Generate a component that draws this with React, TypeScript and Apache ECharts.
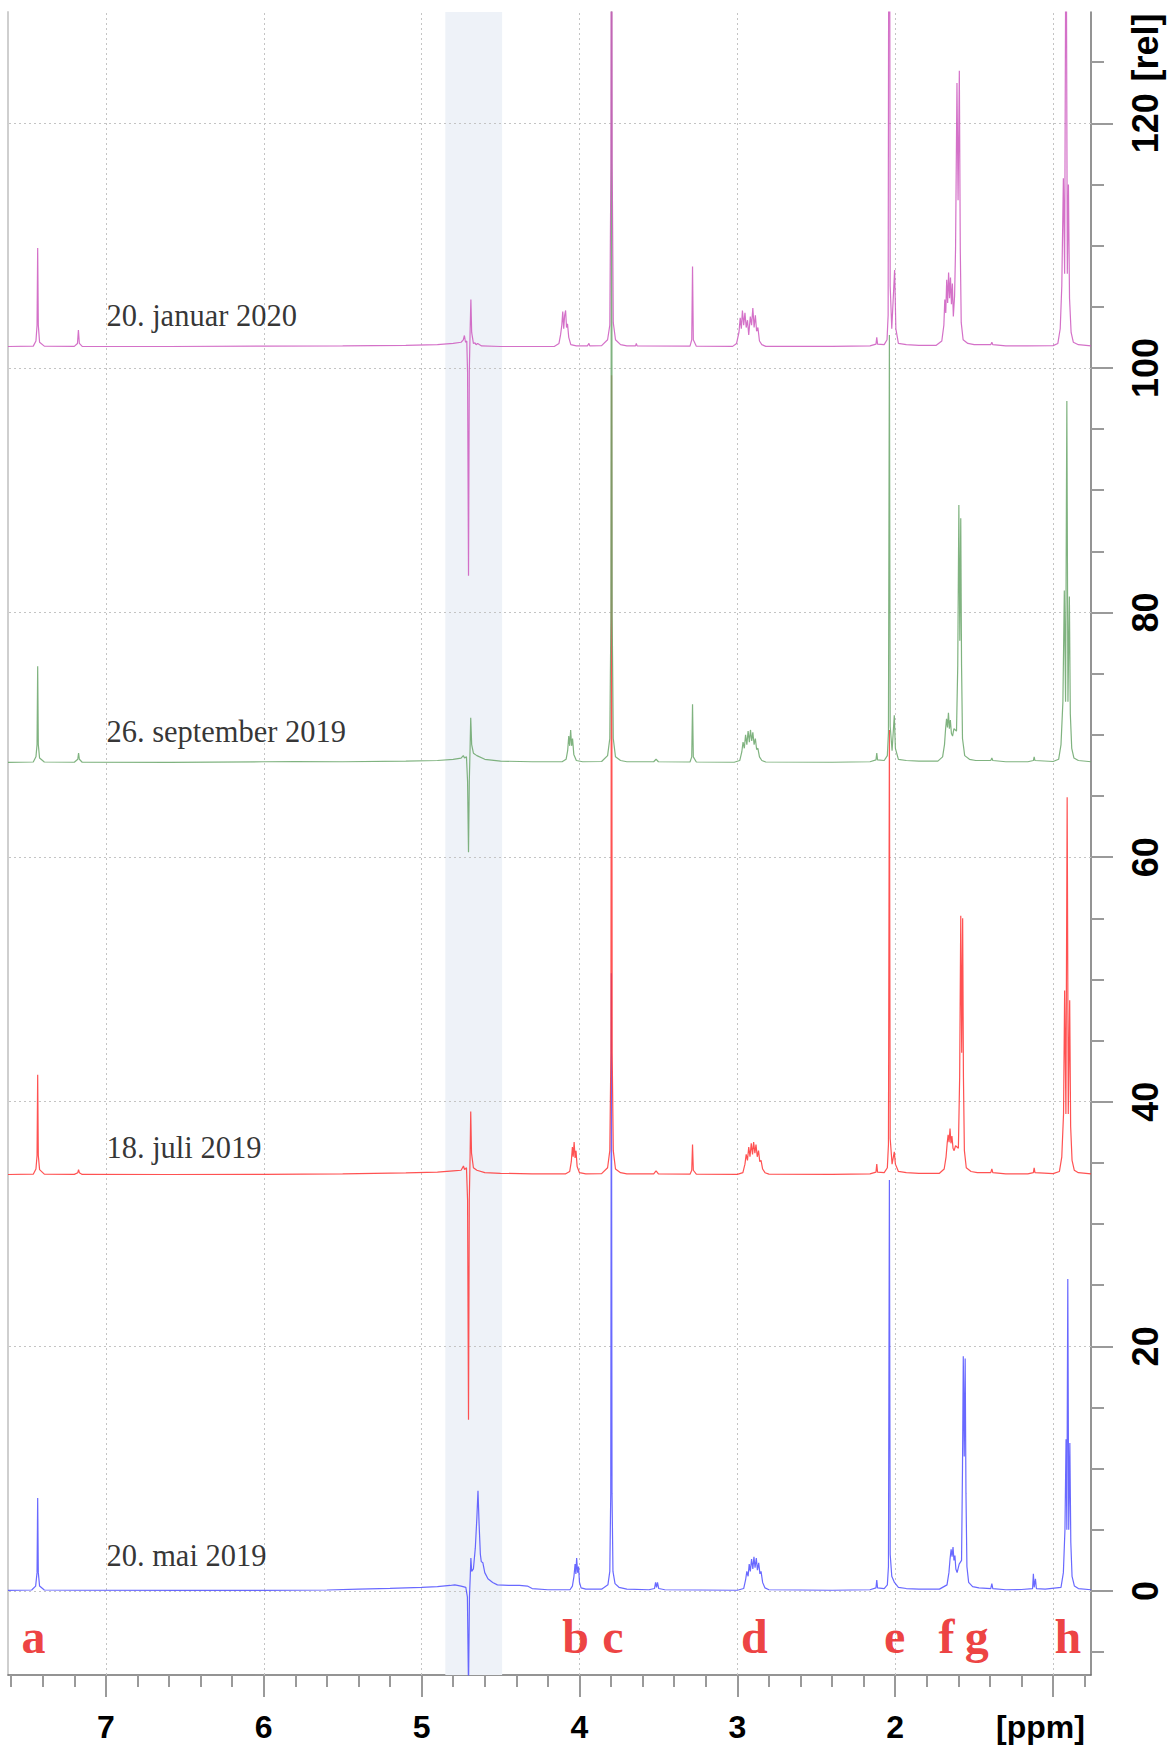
import React, { useEffect, useRef } from "react";
import * as echarts from "echarts";

// ---------- DATA ----------
const seriesNames = ["20. mai 2019", "18. juli 2019", "26. september 2019", "20. januar 2020"];
const seriesColors = ["#4f4fff", "#ff3434", "#6aa66a", "#cc58be"];
const offsets = [0, 34.0, 67.7, 101.7];
const dateLabelPpm = 7.0;
const dateLabelLift = [2.9, 2.2, 2.5, 2.55];

const peakLetters = ["a", "b", "c", "d", "e", "f", "g", "h"];
const peakLetterPpm = [7.458, 4.025, 3.789, 2.892, 2.004, 1.675, 1.484, 0.907];
const peakLetterLevel = -3.76;

const waterBand = [4.85, 4.49];

const xMinorTicks = [0.8, 1.0, 1.2, 1.4, 1.6, 1.8, 2.0, 2.2, 2.4, 2.6, 2.8, 3.0, 3.2, 3.4, 3.6, 3.8, 4.0, 4.2, 4.4, 4.6, 4.8, 5.0, 5.2, 5.4, 5.6, 5.8, 6.0, 6.2, 6.4, 6.6, 6.8, 7.0, 7.2, 7.4, 7.6];
const xMajorTicks = [1, 2, 3, 4, 5, 6, 7];
const xLabelValues = [1.08, 2, 3, 4, 5, 6, 7];
const yMinorTicks = [-5, 0, 5, 10, 15, 20, 25, 30, 35, 40, 45, 50, 55, 60, 65, 70, 75, 80, 85, 90, 95, 100, 105, 110, 115, 120, 125];
const yMajorTicks = [0, 20, 40, 60, 80, 100, 120];
const yLabelValues = [0, 20, 40, 60, 80, 100, 120, 126.2];

// spectra: [ppm, intensity relative to own baseline]
const blueSpectrum = [
  [7.62, 0.05], [7.47, 0.08], [7.445, 0.4], [7.436, 1.5], [7.432, 7.6], [7.428, 1.5], [7.42, 0.4], [7.39, 0.08],
  [7.2, 0.06], [6.5, 0.05], [6.0, 0.05], [5.6, 0.08], [5.4, 0.15], [5.2, 0.22], [5.0, 0.3], [4.9, 0.35], [4.82, 0.45], [4.79, 0.5], [4.75, 0.4], [4.72, 0.3],
  [4.71, -0.5], [4.703, -8], [4.697, -0.5], [4.692, 1.2], [4.688, 2.7], [4.683, 1.6], [4.672, 1.8], [4.66, 3.5], [4.65, 6], [4.643, 8.2], [4.636, 5.5], [4.628, 3],
  [4.622, 2.4], [4.612, 2.3], [4.6, 1.5], [4.58, 1.0], [4.55, 0.7], [4.52, 0.5], [4.45, 0.45], [4.38, 0.45], [4.33, 0.4], [4.3, 0.2], [4.2, 0.1],
  [4.06, 0.1], [4.045, 0.4], [4.035, 1.2], [4.028, 2.2], [4.023, 1.4], [4.018, 2.7], [4.012, 1.5], [4.006, 2.0], [4.0, 0.7], [3.99, 0.25], [3.96, 0.15],
  [3.86, 0.15], [3.82, 0.5], [3.808, 1.6], [3.802, 8], [3.798, 50.5], [3.794, 8], [3.788, 1.6], [3.775, 0.6], [3.75, 0.3], [3.7, 0.15],
  [3.56, 0.1], [3.525, 0.2], [3.518, 0.7], [3.512, 0.3], [3.506, 0.7], [3.498, 0.2], [3.46, 0.1],
  [3.0, 0.06], [2.96, 0.2], [2.948, 0.9], [2.94, 1.6], [2.932, 1.2], [2.925, 2.2], [2.918, 1.6], [2.91, 2.6], [2.902, 1.8], [2.895, 2.8], [2.888, 1.9], [2.88, 2.7],
  [2.873, 1.7], [2.865, 2.3], [2.857, 1.4], [2.85, 1.6], [2.84, 0.7], [2.825, 0.25], [2.8, 0.1],
  [2.4, 0.06], [2.16, 0.1], [2.122, 0.25], [2.117, 0.9], [2.112, 0.25], [2.07, 0.2], [2.05, 0.5], [2.043, 2], [2.037, 33.6], [2.032, 3], [2.022, 1.2], [2.005, 0.7],
  [1.98, 0.3], [1.93, 0.2], [1.85, 0.15],
  [1.72, 0.15], [1.672, 0.5], [1.66, 1.5], [1.653, 2.6], [1.646, 3.4], [1.64, 2.8], [1.634, 3.6], [1.628, 2.5], [1.622, 2.9], [1.616, 1.8], [1.608, 1.5],
  [1.595, 2.2], [1.58, 2.5], [1.574, 10], [1.569, 19.2], [1.563, 11], [1.557, 19.0], [1.552, 8], [1.546, 2], [1.535, 0.7], [1.51, 0.35], [1.47, 0.25],
  [1.395, 0.2], [1.388, 0.6], [1.382, 0.2], [1.3, 0.1], [1.2, 0.12], [1.13, 0.2], [1.125, 1.4], [1.12, 0.3], [1.112, 1.0], [1.106, 0.2], [1.05, 0.15],
  [0.95, 0.3], [0.935, 1.5], [0.925, 5], [0.918, 12.4], [0.913, 5], [0.907, 25.5], [0.901, 5], [0.894, 12.1], [0.888, 4], [0.88, 1.2], [0.865, 0.4], [0.84, 0.2], [0.76, 0.1],
];

const redSpectrum = [
  [7.62, 0.05], [7.46, 0.08], [7.443, 0.5], [7.436, 1.6], [7.432, 8.2], [7.428, 1.6], [7.42, 0.45], [7.39, 0.08],
  [7.2, 0.06], [7.178, 0.2], [7.173, 0.45], [7.168, 0.2], [7.15, 0.06],
  [6.6, 0.05], [6.0, 0.06], [5.5, 0.1], [5.1, 0.18], [4.9, 0.25], [4.8, 0.35], [4.75, 0.4], [4.735, 0.75], [4.728, 0.45], [4.716, 0.6],
  [4.709, -2], [4.703, -20], [4.698, -2], [4.693, 1.5], [4.689, 5.2], [4.684, 1.8], [4.672, 0.6], [4.65, 0.4], [4.6, 0.2], [4.5, 0.15], [4.3, 0.1],
  [4.09, 0.1], [4.062, 0.3], [4.052, 1.1], [4.045, 2.3], [4.04, 1.5], [4.034, 2.7], [4.028, 1.4], [4.022, 2.0], [4.015, 0.7], [4.0, 0.2], [3.96, 0.1],
  [3.86, 0.12], [3.822, 0.6], [3.808, 2], [3.801, 10], [3.797, 65.4], [3.793, 10], [3.786, 2], [3.772, 0.5], [3.74, 0.2], [3.7, 0.1],
  [3.53, 0.1], [3.515, 0.35], [3.5, 0.1],
  [3.3, 0.08], [3.289, 0.4], [3.284, 2.5], [3.279, 0.4], [3.26, 0.08],
  [3.0, 0.06], [2.965, 0.2], [2.952, 0.9], [2.944, 1.7], [2.936, 1.2], [2.928, 2.3], [2.92, 1.5], [2.912, 2.6], [2.904, 1.7], [2.897, 2.7], [2.889, 1.8],
  [2.882, 2.5], [2.874, 1.5], [2.866, 2.0], [2.858, 1.1], [2.85, 1.2], [2.84, 0.5], [2.825, 0.2], [2.8, 0.08],
  [2.4, 0.06], [2.16, 0.1], [2.122, 0.25], [2.117, 0.9], [2.112, 0.25], [2.07, 0.2], [2.05, 0.6], [2.043, 2.5], [2.037, 36.4], [2.032, 3], [2.02, 0.9],
  [2.006, 1.9], [1.999, 0.9], [1.98, 0.3], [1.93, 0.2], [1.85, 0.15],
  [1.72, 0.15], [1.69, 0.5], [1.678, 1.5], [1.671, 2.6], [1.665, 3.3], [1.659, 2.7], [1.653, 3.8], [1.647, 2.6], [1.641, 3.2], [1.634, 2.2], [1.627, 2.0],
  [1.618, 2.4], [1.6, 2.2], [1.592, 8], [1.585, 21.2], [1.579, 10], [1.573, 21.0], [1.568, 8], [1.562, 2], [1.55, 0.6], [1.52, 0.3], [1.48, 0.2],
  [1.395, 0.2], [1.388, 0.5], [1.382, 0.2], [1.3, 0.1], [1.16, 0.1], [1.125, 0.2], [1.12, 0.6], [1.115, 0.2], [1.0, 0.12],
  [0.96, 0.3], [0.945, 1.5], [0.934, 5], [0.927, 15.1], [0.919, 5], [0.911, 30.9], [0.904, 5], [0.895, 14.3], [0.889, 4], [0.88, 1.2], [0.866, 0.4], [0.84, 0.2], [0.76, 0.1],
];

const greenSpectrum = [
  [7.62, 0.05], [7.46, 0.08], [7.443, 0.5], [7.436, 1.5], [7.432, 7.9], [7.428, 1.5], [7.42, 0.4], [7.39, 0.08],
  [7.2, 0.06], [7.178, 0.3], [7.173, 0.8], [7.168, 0.3], [7.15, 0.06],
  [6.6, 0.05], [6.0, 0.1], [5.8, 0.12], [5.5, 0.1], [5.1, 0.15], [4.9, 0.2], [4.8, 0.3], [4.75, 0.4], [4.736, 0.6], [4.728, 0.4], [4.716, 0.5],
  [4.709, -1.5], [4.703, -7.3], [4.698, -1.5], [4.693, 1.2], [4.689, 3.7], [4.683, 1.5], [4.672, 0.8], [4.65, 0.6], [4.6, 0.3], [4.5, 0.15], [4.3, 0.1],
  [4.11, 0.1], [4.085, 0.3], [4.075, 1.0], [4.068, 2.2], [4.062, 1.4], [4.056, 2.7], [4.05, 1.4], [4.044, 2.0], [4.036, 0.7], [4.02, 0.2], [3.98, 0.1],
  [3.86, 0.12], [3.822, 0.6], [3.808, 2], [3.801, 12], [3.797, 66], [3.793, 12], [3.786, 2], [3.772, 0.5], [3.74, 0.2], [3.7, 0.1],
  [3.53, 0.1], [3.515, 0.3], [3.5, 0.1],
  [3.3, 0.08], [3.289, 0.5], [3.284, 4.8], [3.279, 0.5], [3.26, 0.08],
  [3.02, 0.06], [2.985, 0.2], [2.972, 0.9], [2.964, 1.7], [2.956, 1.2], [2.948, 2.3], [2.94, 1.5], [2.932, 2.6], [2.924, 1.7], [2.917, 2.7], [2.909, 1.8],
  [2.902, 2.5], [2.894, 1.5], [2.886, 2.0], [2.878, 1.1], [2.87, 1.2], [2.86, 0.5], [2.845, 0.2], [2.82, 0.08],
  [2.4, 0.06], [2.16, 0.1], [2.122, 0.25], [2.117, 0.8], [2.112, 0.25], [2.07, 0.2], [2.05, 0.6], [2.043, 2.5], [2.037, 35], [2.032, 3], [2.02, 1.0],
  [2.006, 3.9], [1.999, 1.2], [1.98, 0.3], [1.93, 0.2], [1.85, 0.15],
  [1.73, 0.15], [1.7, 0.5], [1.688, 1.5], [1.681, 2.8], [1.675, 3.6], [1.669, 2.9], [1.663, 4.1], [1.657, 2.8], [1.651, 3.5], [1.644, 2.4], [1.637, 2.2],
  [1.628, 2.8], [1.612, 2.6], [1.604, 8], [1.597, 21.1], [1.591, 10], [1.585, 20.0], [1.58, 8], [1.574, 2], [1.56, 0.6], [1.53, 0.3], [1.49, 0.2],
  [1.395, 0.2], [1.388, 0.4], [1.382, 0.2], [1.3, 0.1], [1.16, 0.1], [1.125, 0.2], [1.12, 0.5], [1.115, 0.2], [1.0, 0.12],
  [0.965, 0.3], [0.95, 1.5], [0.938, 5], [0.929, 14.1], [0.921, 5], [0.913, 29.6], [0.906, 5], [0.897, 13.6], [0.891, 4], [0.882, 1.2], [0.868, 0.4], [0.84, 0.2], [0.76, 0.1],
];

const magentaSpectrum = [
  [7.62, 0.05], [7.46, 0.08], [7.443, 0.5], [7.436, 1.8], [7.432, 8.1], [7.428, 1.8], [7.42, 0.4], [7.39, 0.08],
  [7.2, 0.06], [7.18, 0.3], [7.174, 1.4], [7.168, 0.3], [7.15, 0.06],
  [6.6, 0.05], [6.0, 0.08], [5.5, 0.1], [5.1, 0.15], [4.9, 0.2], [4.8, 0.3], [4.75, 0.4], [4.736, 0.6], [4.729, 0.95], [4.722, 0.4], [4.714, 0.5],
  [4.709, -2], [4.703, -18.7], [4.698, -2], [4.693, 1.2], [4.688, 3.9], [4.683, 1.2], [4.672, 0.3], [4.662, 0.35], [4.655, 0.2], [4.645, 0.3], [4.62, 0.1], [4.5, 0.05],
  [4.16, 0.05], [4.13, 0.3], [4.12, 1.0], [4.112, 1.8], [4.106, 2.9], [4.1, 1.5], [4.094, 2.6], [4.088, 3.0], [4.082, 1.6], [4.076, 1.9], [4.068, 0.8], [4.055, 0.2], [4.02, 0.1],
  [3.95, 0.1], [3.94, 0.3], [3.935, 0.1],
  [3.86, 0.12], [3.822, 0.6], [3.808, 1.8], [3.801, 15], [3.797, 62], [3.793, 15], [3.786, 2], [3.772, 0.6], [3.74, 0.2], [3.7, 0.1],
  [3.645, 0.1], [3.64, 0.3], [3.635, 0.1],
  [3.3, 0.08], [3.289, 0.6], [3.284, 6.6], [3.279, 0.6], [3.26, 0.08],
  [3.03, 0.06], [3.005, 0.3], [2.99, 1.2], [2.982, 2.4], [2.975, 1.5], [2.968, 3.0], [2.96, 1.8], [2.952, 2.8], [2.944, 1.6], [2.936, 2.2], [2.928, 1.0],
  [2.918, 2.5], [2.91, 1.8], [2.902, 3.2], [2.894, 1.6], [2.886, 2.6], [2.878, 1.3], [2.87, 1.6], [2.86, 0.5], [2.845, 0.2], [2.82, 0.06],
  [2.4, 0.06], [2.16, 0.1], [2.122, 0.25], [2.117, 0.8], [2.112, 0.25], [2.07, 0.2], [2.052, 0.6], [2.045, 2.6], [2.038, 62], [2.032, 5], [2.022, 1.5],
  [2.004, 6.3], [1.996, 1.5], [1.98, 0.3], [1.93, 0.2], [1.85, 0.15],
  [1.74, 0.15], [1.705, 0.5], [1.692, 1.8], [1.686, 3.9], [1.68, 2.8], [1.674, 5.5], [1.668, 3.6], [1.662, 6.1], [1.656, 4.0], [1.65, 5.7], [1.644, 3.5],
  [1.638, 5.2], [1.632, 2.5], [1.624, 4.2], [1.618, 8], [1.609, 21.6], [1.602, 12], [1.594, 22.6], [1.588, 8], [1.582, 2], [1.57, 0.6], [1.54, 0.3], [1.5, 0.2],
  [1.395, 0.2], [1.388, 0.4], [1.382, 0.2], [1.3, 0.1], [1.16, 0.1], [1.0, 0.12],
  [0.97, 0.3], [0.955, 1.5], [0.945, 5], [0.935, 13.8], [0.927, 6], [0.918, 40], [0.91, 6], [0.903, 13.3], [0.896, 4], [0.886, 1.2], [0.872, 0.4], [0.84, 0.2], [0.76, 0.1],
];

// ---------- COMPONENT ----------
export default function App() {
  const ref = useRef<HTMLDivElement>(null);

  useEffect(() => {
    const chart = echarts.init(ref.current!, null, { renderer: "svg" });
    const spectra = [blueSpectrum, redSpectrum, greenSpectrum, magentaSpectrum];

    const X_MIN = 0.76;
    const X_MAX = 7.62;
    const Y_MIN = -6.87;
    const Y_MAX = 129.1;

    const axisFont = "'Liberation Sans', Arial, sans-serif";
    const serifFont = "'Liberation Serif', 'Times New Roman', serif";

    const baseX = {
      type: "value",
      min: X_MIN,
      max: X_MAX,
      inverse: true,
      position: "bottom",
      splitLine: { show: false },
    };
    const baseY = {
      type: "value",
      min: Y_MIN,
      max: Y_MAX,
      splitLine: { show: false },
    };

    const lineSeries = spectra.map((s, i) => ({
      type: "line",
      name: seriesNames[i],
      xAxisIndex: 0,
      yAxisIndex: 0,
      data: s.map(([p, v]) => [p, v + offsets[i]]),
      showSymbol: false,
      symbol: "none",
      clip: true,
      silent: true,
      z: 3 + i,
      lineStyle: { color: seriesColors[i], width: 1.2, opacity: 0.85 },
    }));

    const option: any = {
      animation: false,
      backgroundColor: "#ffffff",
      grid: {
        left: 8,
        right: 79,
        top: 12,
        bottom: 73,
        containLabel: false,
        outerBoundsMode: "none",
      },
      xAxis: [
        {
          ...baseX,
          axisLine: { show: true, onZero: false, lineStyle: { color: "#707070", width: 1.5 } },
          axisTick: { show: true, length: 12, customValues: xMinorTicks, lineStyle: { color: "#9a9a9a", width: 2 } },
          axisLabel: { show: false },
        },
        {
          ...baseX,
          axisLine: { show: false, onZero: false },
          axisTick: { show: true, length: 22, customValues: xMajorTicks, lineStyle: { color: "#9a9a9a", width: 2 } },
          axisLabel: {
            show: true,
            customValues: xLabelValues,
            margin: 36,
            fontFamily: axisFont,
            fontWeight: "bold",
            fontSize: 32,
            color: "#000",
            formatter: (v: number) => (v < 1.5 ? "[ppm]" : String(Math.round(v))),
          },
        },
      ],
      yAxis: [
        {
          ...baseY,
          position: "right",
          axisLine: { show: true, onZero: false, lineStyle: { color: "#707070", width: 1.5 } },
          axisTick: { show: true, length: 13, customValues: yMinorTicks, lineStyle: { color: "#9a9a9a", width: 2 } },
          axisLabel: { show: false },
        },
        {
          ...baseY,
          position: "right",
          offset: 0,
          axisLine: { show: false, onZero: false },
          axisTick: { show: true, length: 22, customValues: yMajorTicks, lineStyle: { color: "#9a9a9a", width: 2 } },
          axisLabel: {
            show: true,
            customValues: yLabelValues,
            rotate: 90,
            margin: 36,
            fontFamily: axisFont,
            fontWeight: "bold",
            fontSize: 36,
            color: "#000",
            formatter: (v: number) => (v > 122 ? "[rel]" : String(Math.round(v))),
          },
        },
        {
          ...baseY,
          position: "left",
          axisLine: { show: true, onZero: false, lineStyle: { color: "#cfcfcf", width: 2 } },
          axisTick: { show: false },
          axisLabel: { show: false },
        },
      ],
      series: [
        {
          type: "line",
          xAxisIndex: 0,
          yAxisIndex: 0,
          data: [],
          silent: true,
          z: 1,
          markArea: {
            silent: true,
            z: 1,
            itemStyle: { color: "#eef2f8" },
            data: [[{ xAxis: waterBand[0] }, { xAxis: waterBand[1] }]],
          },
          markLine: {
            silent: true,
            z: 1,
            symbol: ["none", "none"],
            label: { show: false },
            lineStyle: { type: [2, 3], color: "#c4c4c4", width: 1 },
            data: [
              ...xMajorTicks.map((v) => ({ xAxis: v })),
              ...yMajorTicks.map((v) => ({ yAxis: v })),
            ],
          },
        },
        ...lineSeries,
        {
          type: "scatter",
          xAxisIndex: 0,
          yAxisIndex: 0,
          silent: true,
          z: 10,
          symbolSize: 1,
          itemStyle: { color: "rgba(0,0,0,0)" },
          data: seriesNames.map((n, i) => ({ name: n, value: [dateLabelPpm, offsets[i] + dateLabelLift[i]] })),
          label: {
            show: true,
            position: "right",
            distance: 0,
            formatter: "{b}",
            fontFamily: serifFont,
            fontSize: 30.5,
            color: "#000",
          },
        },
        {
          type: "scatter",
          xAxisIndex: 0,
          yAxisIndex: 0,
          silent: true,
          z: 10,
          symbolSize: 1,
          itemStyle: { color: "rgba(0,0,0,0)" },
          data: peakLetters.map((l, i) => ({ name: l, value: [peakLetterPpm[i], peakLetterLevel] })),
          label: {
            show: true,
            position: "inside",
            formatter: "{b}",
            fontFamily: serifFont,
            fontWeight: "bold",
            fontSize: 48,
            color: "#e81010",
          },
        },
      ],
    };

    chart.setOption(option);
    return () => chart.dispose();
  }, []);

  return (
    <div
      ref={ref}
      style={{ position: "absolute", left: 0, top: 0, width: 1170, height: 1748, background: "#fff" }}
    />
  );
}
